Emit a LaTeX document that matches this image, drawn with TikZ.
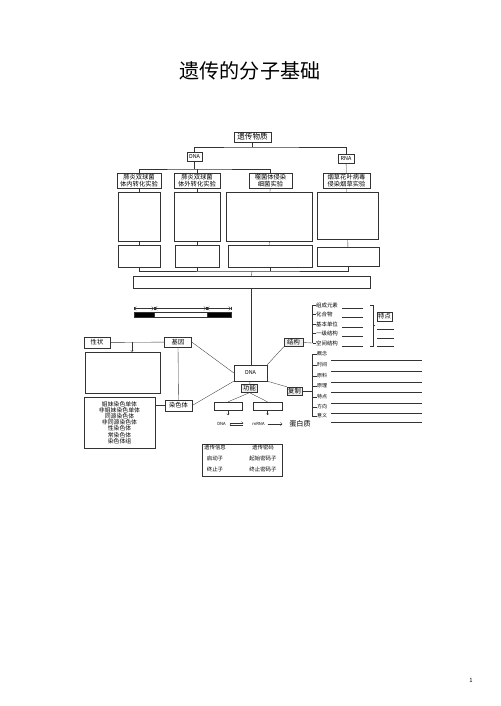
\documentclass[tikz,border=0pt]{standalone}
\usepackage{fontspec}
\setmainfont{Noto Sans CJK SC}
\usetikzlibrary{arrows.meta}
\newlength{\pxu}
\setlength{\pxu}{0.42mm}

\begin{document}
\begin{tikzpicture}[
    x=\pxu, y=-\pxu,
    box/.style={rectangle, draw=black!80, inner sep=0.5pt, align=center,
                font=\fontsize{7.5}{8}\selectfont},
    sz/.style 2 args={minimum width=#1\pxu, minimum height=#2\pxu},
    tag/.style={box, fill=gray!15},
    item/.style={anchor=west, inner sep=0pt, font=\fontsize{6.5}{7}\selectfont},
    ln/.style={draw=black!80},
    arr/.style={ln, -{Straight Barb[length=1.5pt, width=3pt]}}
]
\useasboundingbox (0,0) rectangle (500,706);

\node[font=\fontsize{24}{28}\selectfont] (title) at (250,71) {遗传的分子基础};
\node[font=\fontsize{7}{8}\selectfont] (pg) at (471,680) {1};

% experiments
\node[box, sz={37}{10}, font=\fontsize{9}{10}\selectfont] (ycwz) at (252.5,137) {遗传物质};
\node[box, sz={15}{9}, font=\fontsize{6.5}{7}\selectfont] (dnat) at (194.5,156.5) {DNA};
\node[box, sz={16}{9}, font=\fontsize{6.5}{7}\selectfont] (rnat) at (346,158.5) {RNA};
\coordinate (j1) at (252.5,147);
\coordinate (j2) at (194.5,169);
\coordinate (j3) at (252,271);

\node[box, sz={44}{15}] (e1) at (139,180.5) {肺炎双球菌\\体内转化实验};
\node[box, sz={46}{15}] (e2) at (197,180.5) {肺炎双球菌\\体外转化实验};
\node[box, sz={43}{15}] (e3) at (270.5,180.5) {噬菌体侵染\\细菌实验};
\node[box, sz={47}{15}] (e4) at (346.5,180.5) {烟草花叶病毒\\侵染烟草实验};

\node[box, sz={42}{49}] (l1) at (139,216.5) {};
\node[box, sz={46}{49}] (l2) at (197,216.5) {};
\node[box, sz={86}{49}] (l3) at (269,216.5) {};
\node[box, sz={61}{47}] (l4) at (347.5,215.5) {};

\node[box, sz={42}{22}] (s1) at (139,256) {};
\node[box, sz={44}{22}] (s2) at (197,256) {};
\node[box, sz={84}{22}] (s3) at (270,256) {};
\node[box, sz={62}{19}] (s4) at (348,256.5) {};

\node[box, sz={237}{12}] (lng) at (251.5,282) {};

\draw[ln] (ycwz) -- (j1);
\draw[ln] (dnat.north) |- (j1) -| (rnat.north);
\draw[ln] (dnat) -- (j2);
\draw[ln] (e1.north) |- (j2) -| (e3.north);
\draw[ln] (e2.north) -- (e2.north |- j2);
\draw[ln] (rnat) -- (e4);
\draw[ln] (e1) -- (l1); \draw[ln] (e2) -- (l2);
\draw[ln] (e3) -- (l3); \draw[ln] (e4) -- (l4);
\draw[ln] (l1) -- (s1); \draw[ln] (l2) -- (s2);
\draw[ln] (l3) -- (s3); \draw[ln] (l4) -- (s4);
\draw[ln] (s1.south) |- (j3) -| (s4.south);
\draw[ln] (s2.south) -- (s2.south |- j3);
\draw[ln] (s3.south) -- (s3.south |- j3);
\draw[ln] (j3) -- (lng.north);

% gene segment
\node[box, sz={20}{5}, fill=black] (bl) at (144,314.5) {};
\node[box, sz={53}{5}] (bm) at (180.5,314.5) {};
\node[box, sz={24}{5}, fill=black] (br) at (219,314.5) {};
\draw[ln, |<->|, >=Straight Barb] ([yshift=4pt]bl.north west) -- ([yshift=4pt]bl.north east);
\draw[ln, |<->|, >=Straight Barb] ([yshift=4pt, xshift=1pt]bm.north west) -- ([yshift=4pt, xshift=-1pt]bm.north east);
\draw[ln, |<->|, >=Straight Barb] ([yshift=4pt]br.north west) -- ([yshift=4pt]br.north east);

% DNA centre
\node[box, sz={33}{16}, font=\fontsize{6.5}{7}\selectfont] (dna) at (250.5,373) {DNA};
\node[box, sz={27}{10}] (gene) at (178,342) {基因};
\node[box, sz={26}{11}] (trait) at (97,342.5) {性状};
\node[box, sz={75}{41}] (trbox) at (122.5,372.5) {};
\node[box, sz={27}{11}] (chrom) at (178.5,405.5) {染色体};
\node[box, sz={71}{51}, font=\fontsize{7}{7.4}\selectfont] (chlist) at (119.5,422.5)
    {姐妹染色单体\\非姐妹染色单体\\同源染色体\\非同源染色体\\性染色体\\常染色体\\染色体组};
\node[tag, sz={19}{8}] (struct) at (293.5,342.5) {结构};
\node[tag, sz={16}{8}] (func) at (249.5,388.5) {功能};
\node[tag, sz={15}{8}] (repl) at (294.5,391) {复制};
\node[box, sz={28}{8}] (fa) at (228,406) {};
\node[box, sz={29}{8}] (fb) at (267.5,406) {};
\coordinate (tj) at (132,342);
\coordinate (fa-end) at (228,415);
\coordinate (fb-end) at (267.5,415);

\draw[ln] (lng.south) -- (lng.south |- dna.north);
\draw[ln] (trait) -- (gene);
\draw[arr] (tj) -- (trbox.north -| tj);
\draw[ln] (gene) -- (chrom);
\draw[ln] (chrom.west) -- (chrom.west -| chlist.east);
\draw[ln] (gene.east) -- (dna.west);
\draw[ln] (chrom.east) -- (dna.south west);
\draw[ln] (dna.north east) -- (struct.south west);
\draw[ln] (dna.south east) -- (repl.north west);
\draw[ln] (dna) -- (func);
\draw[ln] (func.south) -- (fa.north);
\draw[ln] (func.south) -- (fb.north);
\draw[arr] (fa) -- (fa-end);
\draw[arr] (fb) -- (fb-end);

% central dogma
\node[font=\fontsize{5}{6}\selectfont, inner sep=1pt] (dnb) at (221.5,424) {DNA};
\node[font=\fontsize{5}{6}\selectfont, inner sep=1pt] (mrna) at (258.5,424) {mRNA};
\node[font=\fontsize{8.5}{9}\selectfont, inner sep=1pt] (prot) at (300,424) {蛋白质};
\draw[ln, -{Straight Barb[left, length=2pt]}, shorten <=3\pxu, shorten >=8\pxu]
    ([yshift=1pt]dnb.east) -- ([yshift=1pt]mrna.west);
\draw[ln, {Straight Barb[right, length=2pt]}-, shorten <=3\pxu, shorten >=8\pxu]
    ([yshift=-1pt]dnb.east) -- ([yshift=-1pt]mrna.west);
\draw[ln, -{Straight Barb[length=2pt]}, shorten <=2\pxu, shorten >=6\pxu] (mrna) -- (prot);

\node[box, sz={80}{32}] (codes) at (242,460) {};
\node[item, anchor=center] (c1) at (215,447) {遗传信息};
\node[item, anchor=center] (c2) at (263,447) {遗传密码};
\node[item, anchor=center] (c3) at (215,458) {启动子};
\node[item, anchor=center] (c4) at (263,458) {起始密码子};
\node[item, anchor=center] (c5) at (215,469) {终止子};
\node[item, anchor=center] (c6) at (263,469) {终止密码子};

% structure list
\coordinate (sb) at (312.5,343);
\draw[ln] (struct.east) -- (sb);
\foreach \y/\t [count=\i] in {305/组成元素, 314/化合物, 324/基本单位, 333/一级结构, 343/空间结构} {
  \node[item] (st\i) at (316,\y) {\t};
  \draw[ln] (312.5,\y) -- (st\i.west);
  \draw[ln] (342,\y+3) -- (363,\y+3);
}
\draw[ln] (st1.west -| sb) -- (sb);
\draw[ln] (370,305) -- (373,305) -- (373,346) -- (370,346);
\draw[ln] (373,325) -- (375,325);
\node[box, sz={15}{9}] (feat) at (384.5,316.5) {特点};
\foreach \y in {329, 338, 346} \draw[ln] (377,\y) -- (394,\y);

% replication list
\coordinate (rb) at (312,391);
\draw[ln] (repl.east) -- (rb);
\foreach \y/\t [count=\i] in {354/概念, 365/时间, 376/原料, 386/原理, 397/特点, 407/方向, 416/意义} {
  \node[item, font=\fontsize{6}{6.5}\selectfont] (rp\i) at (317,\y) {\t};
  \draw[ln] (312,\y) -- (rp\i.west);
  \draw[ln] (331,\y+6) -- (422,\y+6);
}
\draw[ln] (rp1.west -| rb) -- (rp7.west -| rb);
\end{tikzpicture}
\end{document}
